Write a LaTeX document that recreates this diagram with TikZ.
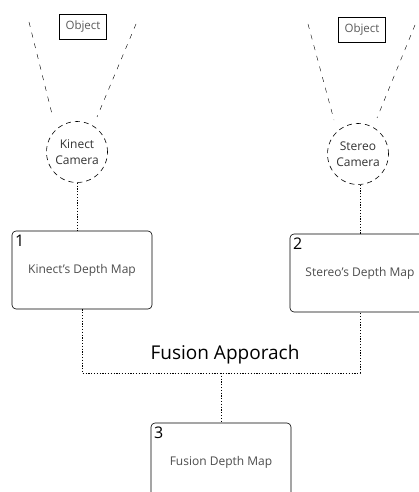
\documentclass[tikz,border=0pt]{standalone}
\usepackage{fontspec}
\setmainfont{Open Sans}
\usetikzlibrary{arrows,positioning}

\begin{document}
\begin{tikzpicture}[x=1pt,y=-1pt,semithick]
  \tikzstyle{obj}=[draw, thin, inner sep=2pt, minimum width=47pt, minimum height=25pt, font=\fontsize{11.5}{12}\selectfont, text=black!65]
  \tikzstyle{cam}=[draw, circle, dash pattern=on 5pt off 4pt, minimum size=61pt, inner sep=0pt, align=center, font=\fontsize{12}{16}\selectfont, text=black!80]
  \tikzstyle{dmap}=[draw, rounded corners=4pt, minimum width=140pt, minimum height=78pt, font=\fontsize{12}{12}\selectfont, text=black!70]
  \tikzstyle{num}=[anchor=north west, inner xsep=3pt, inner ysep=4pt, font=\fontsize{16}{16}\selectfont, text=black]
  \tikzstyle{cone}=[thin, dash pattern=on 5pt off 6pt]
  \tikzstyle{link}=[thin, dash pattern=on 1.2pt off 1.6pt]

  \clip (0,0) rectangle (419,492);

  % cameras and the objects they look at
  \node[obj]  (objK) at (83,27)  {Object};
  \node[obj]  (objS) at (362,30) {Object};
  \node[cam]  (camK) at (77,152)  {Kinect\\Camera};
  \node[cam]  (camS) at (358,154) {Stereo\\Camera};
  \coordinate (kl) at (29,22);   \coordinate (kr) at (136,24);
  \coordinate (kl2) at (53,118); \coordinate (kr2) at (97,117);
  \coordinate (sl) at (308,24);  \coordinate (sr) at (415,25);
  \coordinate (sl2) at (334,120);\coordinate (sr2) at (377,118);
  \draw[cone] (kl) -- (kl2);
  \draw[cone] (kr) -- (kr2);
  \draw[cone] (sl) -- (sl2);
  \draw[cone] (sr) -- (sr2);

  % depth maps
  \node[dmap, label={[num]north west:1}] (mapK) at (82,270)  {Kinect's Depth Map};
  \node[dmap, label={[num]north west:2}] (mapS) at (360,273) {Stereo's Depth Map};
  \node[dmap, label={[num]north west:3}] (mapF) at (221,462) {Fusion Depth Map};
  \node[font=\fontsize{19}{19}\selectfont] (fus) at (225,355) {Fusion Apporach};

  \coordinate (jK) at (82,373);
  \coordinate (jS) at (360,373);
  \coordinate (jF) at (221,373);
  \draw[link] (camK.south) -- (camK.south |- mapK.north);
  \draw[link] (camS.south -| mapS.north) -- (mapS.north);
  \draw[link] (mapK.south) -- (jK) -- (jS) -- (mapS.south);
  \draw[link] (jF) -- (mapF.north);
\end{tikzpicture}
\end{document}
